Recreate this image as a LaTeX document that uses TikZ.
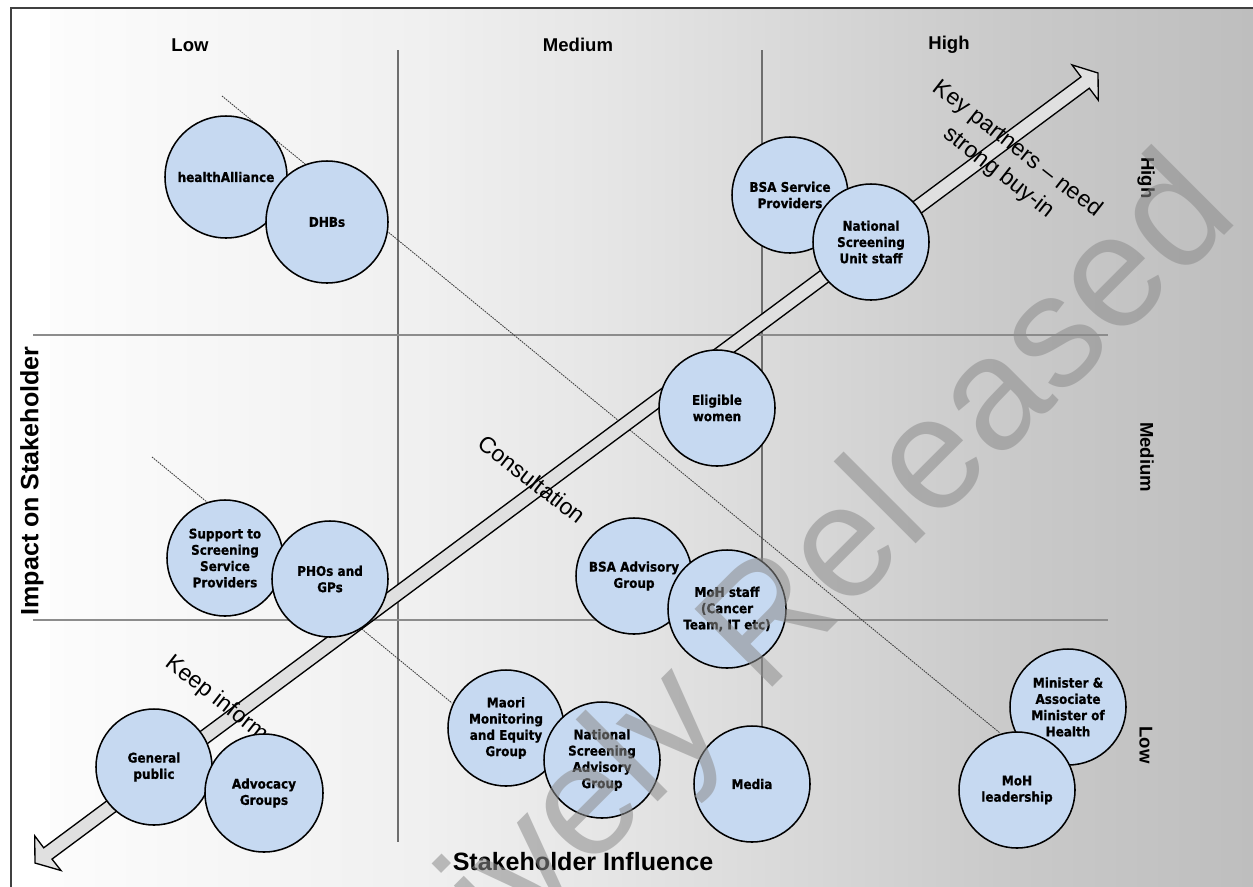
\documentclass[tikz,border=0pt]{standalone}
\usepackage{fontspec}
\setmainfont{Liberation Sans}
\newfontfamily\nodefont{DejaVu Sans Bold}[FakeStretch=0.9, FakeBold=0.8]

\definecolor{bubblefill}{HTML}{C6D9F1}
\definecolor{framecol}{HTML}{404040}
\definecolor{hgridcol}{HTML}{8C8C8C}
\definecolor{vgridcol}{HTML}{6E6E6E}
\definecolor{arrowfill}{HTML}{E0E0E0}
\definecolor{bga}{gray}{0.988}
\definecolor{bgb}{gray}{0.941}
\definecolor{bgc}{gray}{0.902}
\definecolor{bgd}{gray}{0.839}
\definecolor{bge}{gray}{0.792}
\definecolor{bgf}{gray}{0.745}

% left-to-right grey wash of the chart area (stops live in 25bp..75bp)
\pgfdeclarehorizontalshading{bgshade}{100bp}{color(0bp)=(bga); color(25bp)=(bga);
  color(40.38bp)=(bgb); color(47.86bp)=(bgc); color(57.42bp)=(bgd);
  color(64.48bp)=(bge); color(75bp)=(bgf); color(100bp)=(bgf)}

\begin{document}
\begin{tikzpicture}[x=0.75pt,y=-0.75pt,
  bubble/.style={circle, draw=black, line width=1.15pt, fill=bubblefill,
    inner sep=0pt, align=center, minimum size=87pt, text=black,
    font=\nodefont\fontsize{10}{12.2}\selectfont},
  bigbubble/.style={bubble, minimum size=91.5pt},
  levellabel/.style={inner sep=0pt, font=\bfseries\fontsize{13.9}{16}\selectfont},
  axistitle/.style={inner sep=0pt, font=\bfseries\fontsize{18.8}{22}\selectfont},
  zonelabel/.style={inner sep=0pt, align=center, rotate=-38,
    font=\fontsize{17.25}{22.5}\selectfont},
  vline/.style={draw=vgridcol, line width=0.8pt},
  hline/.style={draw=hgridcol, line width=1.2pt},
  guide/.style={draw=black!75, line width=0.65pt, dash pattern=on 1.2pt off 0.7pt},
  bigarrow/.style={draw=black, line width=1pt, fill=arrowfill, line join=miter},
  watermark/.style={inner sep=0pt, text=black!45, text opacity=0.55,
    font=\fontsize{120}{120}\selectfont}]

\useasboundingbox (0,0) rectangle (1253,886);
\clip (0,0) rectangle (1253,886);

% page, grey wash and outer frame
\fill[white] (0,0) rectangle (1253,886);
\shade[shading=bgshade] (50,8) rectangle (1253,886);
\draw[draw=framecol, line width=1.2pt] (11,8) rectangle (1262,896);

% grid of the 3 x 3 matrix
\draw[vline] (398,50) -- (398,842);
\draw[vline] (762,50) -- (762,842);
\draw[hline] (33,335) -- (1108,335);
\draw[hline] (33,620) -- (1108,620);

% dotted zone boundaries
\coordinate (g1s) at (222,96);
\coordinate (g1e) at (1000,733);
\coordinate (g2s) at (152,457);
\coordinate (g2e) at (452,703);
\draw[guide] (g1s) -- (g1e);
\draw[guide] (g2s) -- (g2e);

% double-headed engagement arrow
\coordinate (tipA) at (35,863);
\coordinate (tipB) at (1098,73);
\draw[bigarrow] (tipB) -- (1098.3,100.2) -- (1089.3,88.2) -- (52.0,859.1)
  -- (61.0,870.5) -- (tipA) -- (34.7,835.8) -- (43.7,847.8)
  -- (1081.0,76.9) -- (1072.0,64.9) -- cycle;

% zone labels along the arrow
\node[zonelabel] (keyp) at (1008,161) {Key partners -- need\\strong buy-in};
\node[zonelabel] (cons) at (532,479) {Consultation};
\node[zonelabel] (keepi) at (227,707) {Keep informed};

% level labels
\node[levellabel] (inflow) at (190,45) {Low};
\node[levellabel] (infmed) at (578,45) {Medium};
\node[levellabel] (infhigh) at (949,45) {High};
\node[levellabel, rotate=-90] (imphigh) at (1146,178) {High};
\node[levellabel, rotate=-90] (impmed) at (1147,457) {Medium};
\node[levellabel, rotate=-90] (implow) at (1146,745) {Low};

% axis titles
\node[axistitle, rotate=90] (yaxis) at (32,481) {Impact on Stakeholder};
\node[axistitle] (xaxis) at (583,862) {Stakeholder Influence};

% stakeholders
\node[bigbubble] (ha) at (226,177) {healthAlliance};
\node[bigbubble] (dhb) at (327,222) {DHBs};
\node[bubble] (bsasp) at (790,195) {BSA Service\\Providers};
\node[bubble] (nsu) at (871,242) {National\\Screening\\Unit staff};
\node[bubble] (women) at (717,408) {Eligible\\women};
\node[bubble] (support) at (225,558) {Support to\\Screening\\Service\\Providers};
\node[bubble] (pho) at (330,579) {PHOs and\\GPs};
\node[bubble] (bsaag) at (634,576) {BSA Advisory\\Group};
\node[bubble, minimum size=88.5pt] (mohstaff) at (727,609) {MoH staff\\(Cancer\\Team, IT etc)};
\node[bubble] (public) at (154,767) {General\\public};
\node[bubble, minimum size=88.5pt] (advocacy) at (264,793) {Advocacy\\Groups};
\node[bubble] (maori) at (506,728) {Maori\\Monitoring\\and Equity\\Group};
\node[bubble] (nsag) at (602,760) {National\\Screening\\Advisory\\Group};
\node[bubble] (media) at (752,784) {Media};
\node[bubble] (minister) at (1068,707) {Minister \&\\Associate\\Minister of\\Health};
\node[bubble] (mohlead) at (1017,790) {MoH\\leadership};

% release stamp across the sheet
\node[watermark, anchor=base west, rotate=45] (stamp) at (179,1281) {Proactively Released};
\end{tikzpicture}
\end{document}
